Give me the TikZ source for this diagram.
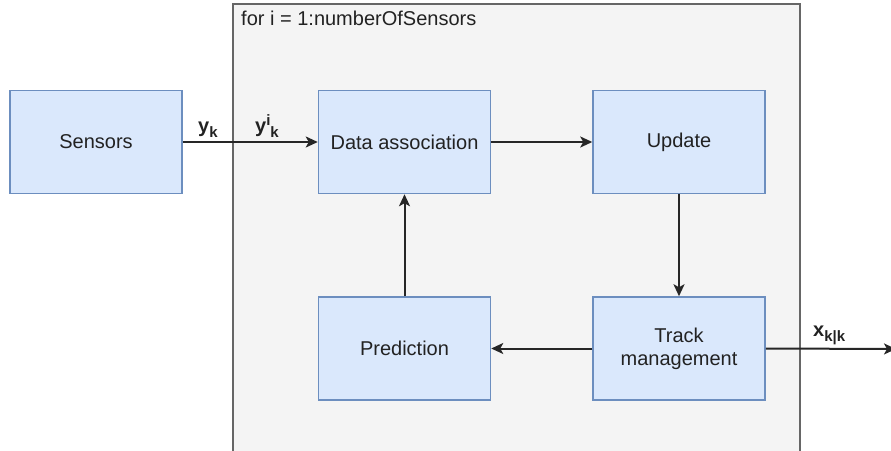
\documentclass[tikz,border=0pt]{standalone}
\usepackage{fontspec}
\setmainfont{Liberation Sans}
\usetikzlibrary{arrows.meta}
\definecolor{boxfill}{HTML}{DAE8FC}
\definecolor{boxline}{HTML}{6C8EBF}
\definecolor{loopfill}{HTML}{F4F4F4}
\definecolor{loopline}{HTML}{666666}
\definecolor{txt}{HTML}{222222}
% lowered / raised index text in the signal labels
\newcommand{\lowidx}[1]{\raisebox{-5pt}{\fontsize{15}{15}\selectfont #1}}
\newcommand{\highidx}[1]{\raisebox{7pt}{\fontsize{15}{15}\selectfont #1}}
\begin{document}
\begin{tikzpicture}[x=1pt,y=-1pt,
  block/.style={draw=boxline,fill=boxfill,line width=1.5pt,minimum width=172pt,minimum height=103pt,
    inner sep=0pt,align=center,font=\fontsize{20}{23}\selectfont,text=txt},
  link/.style={draw=black!85,line width=2pt,-{Stealth[length=12pt,width=11pt,inset=3pt]}},
  sig/.style={font=\fontsize{20}{23}\selectfont\bfseries,text=txt,inner sep=0pt}]
  \useasboundingbox (0,0) rectangle (891,450);
  % loop frame (runs past the lower edge)
  \path[fill=loopfill,draw=loopline,line width=2pt] (233,470) -- (233,4) -- (800,4) -- (800,470);
  \node[anchor=north west,font=\fontsize{20}{23}\selectfont,text=txt,inner sep=0pt] (looptitle) at (241,11) {for i = 1:numberOfSensors};
  % blocks
  \node[block] (sensors) at (96,142) {Sensors};
  \node[block] (assoc) at (404.5,142) {Data association};
  \node[block] (update) at (679,142) {Update};
  \node[block] (pred) at (404.5,348.5) {Prediction};
  \node[block] (track) at (679,348.5) {Track\\management};
  \coordinate (out) at (896,349);
  % connectors
  \draw[link] (sensors) -- (assoc);
  \draw[link] (assoc) -- (update);
  \draw[link] (update) -- (track);
  \draw[link] (track) -- (pred);
  \draw[link] (pred) -- (assoc);
  \draw[link] (track.east) -- (out);
  % signal labels
  \node[sig,anchor=base west] (yk) at (198,132) {y\lowidx{k}};
  \node[sig,anchor=base west] (yik) at (255,132) {y\highidx{i}\lowidx{k}};
  \node[sig,anchor=base west] (xkk) at (813,336) {x\lowidx{k|k}};
\end{tikzpicture}
\end{document}
